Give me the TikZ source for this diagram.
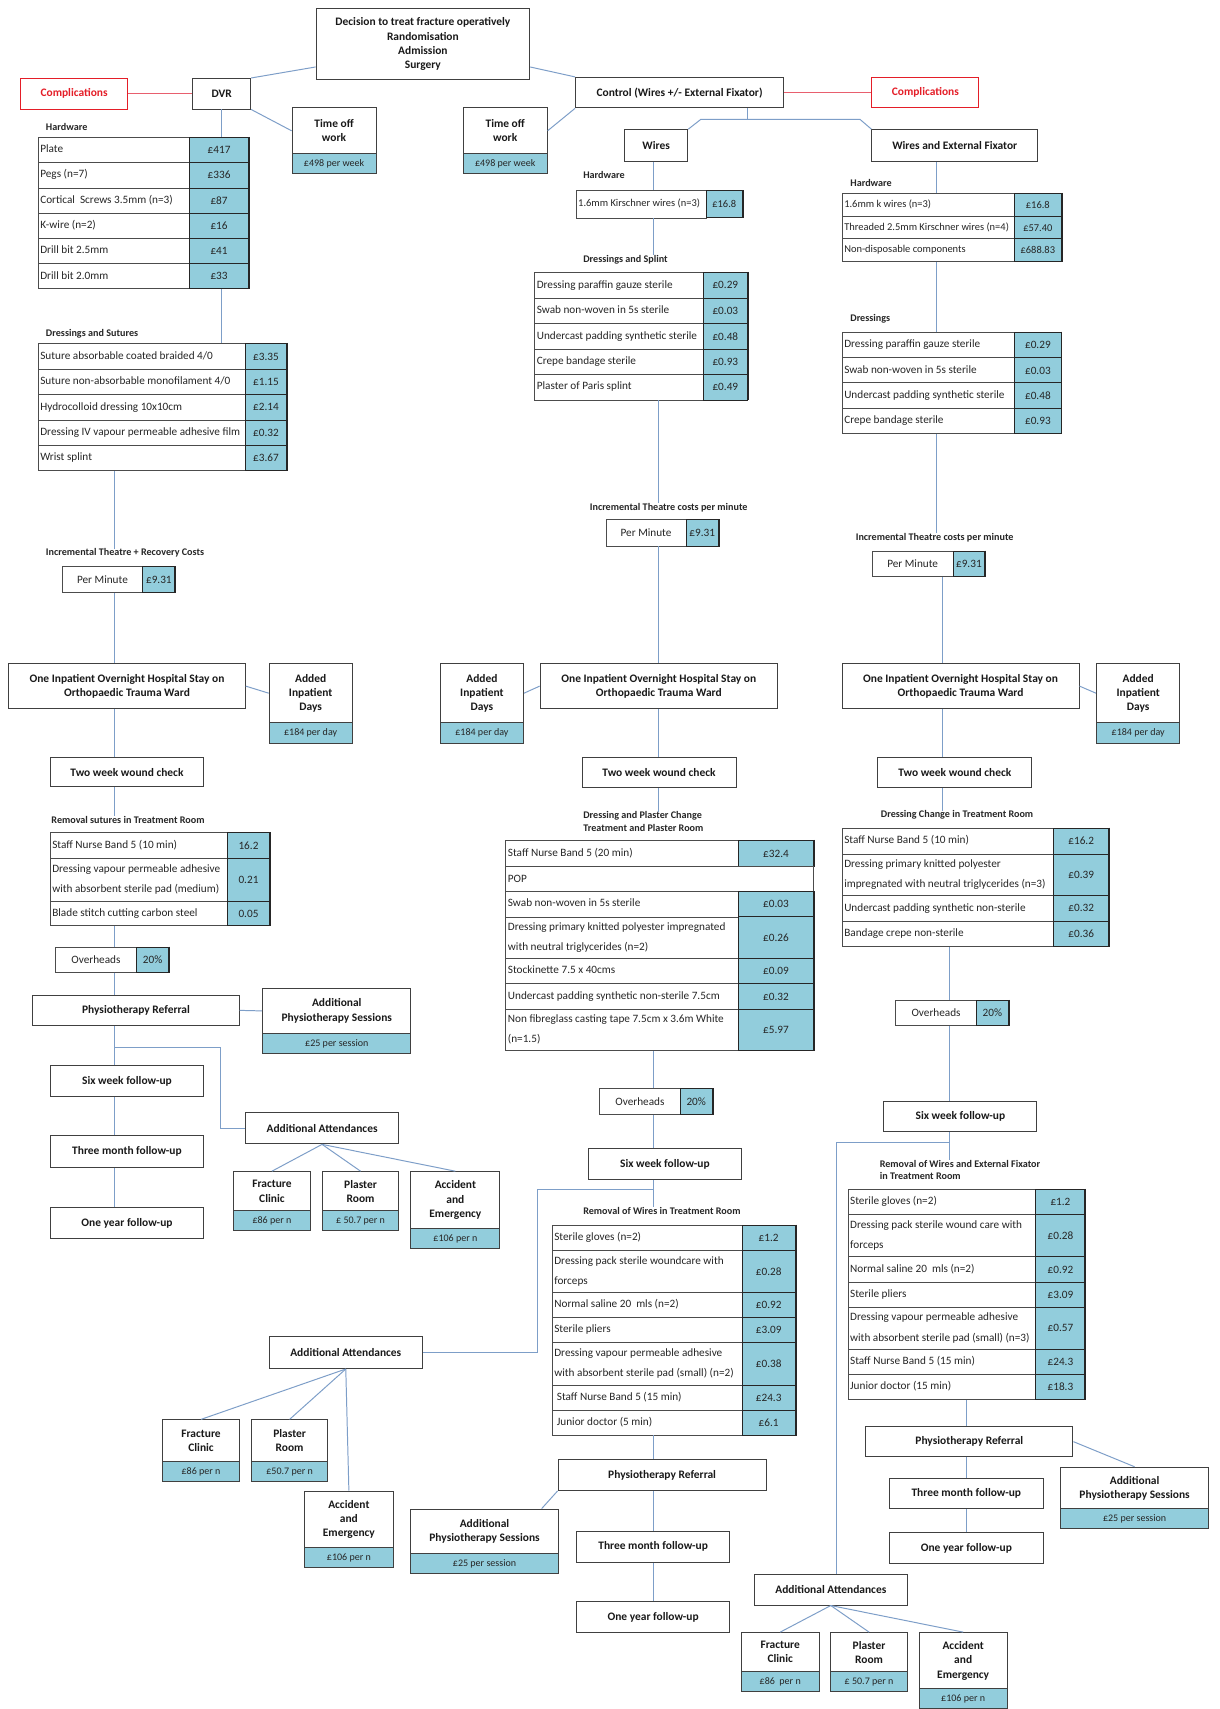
\documentclass[tikz,border=0pt]{standalone}
\usepackage{fontspec}
\setmainfont{Carlito}
\usetikzlibrary{calc}
\definecolor{cellblue}{RGB}{146,205,220}
\definecolor{lineblue}{RGB}{125,158,200}
\definecolor{compred}{RGB}{228,30,40}
\definecolor{redline}{RGB}{232,95,110}
\newcommand\tabfont{\fontsize{10.3}{12.4}\selectfont}
\newcommand\boxfont{\fontsize{10.5}{13}\selectfont\bfseries}
\newcommand\labfont{\fontsize{9.3}{11.3}\selectfont\bfseries}
\newcommand\capfont{\fontsize{9.2}{11}\selectfont}
\newcommand\Bx[7][box]{%
  \pgfmathsetmacro\zzA{#5-#3}%
  \pgfmathsetmacro\zzH{#6-#4}%
  \pgfmathsetmacro\zzX{(#3+#5)/2}%
  \pgfmathsetmacro\zzY{(#4+#6)/2}%
  \node[#1,minimum width=\zzA pt,minimum height=\zzH pt] (#2) at (\zzX,\zzY) {#7};%
}
\newcommand\Trow[8]{%
  \pgfmathsetmacro\zzA{#3-#2}%
  \pgfmathsetmacro\zzB{#4-#3}%
  \pgfmathsetmacro\zzH{#6-#5}%
  \pgfmathsetmacro\zzT{#3-#2-4}%
  \pgfmathsetmacro\zzX{(#2+#3)/2}%
  \pgfmathsetmacro\zzV{(#3+#4)/2}%
  \pgfmathsetmacro\zzY{(#5+#6)/2}%
  \node[lcell,minimum width=\zzA pt,minimum height=\zzH pt] (#1l) at (\zzX,\zzY) {\makebox[\zzT pt][l]{\begin{tabular}{@{}l@{}}#7\end{tabular}}};%
  \node[vcell,minimum width=\zzB pt,minimum height=\zzH pt] (#1v) at (\zzV,\zzY) {#8};%
  \draw[line width=1.7pt,black!85] (#1v.north east) -- (#1v.south east);%
}
\newcommand\Crow[8]{%
  \pgfmathsetmacro\zzA{#3-#2}%
  \pgfmathsetmacro\zzB{#4-#3}%
  \pgfmathsetmacro\zzH{#6-#5}%
  \pgfmathsetmacro\zzX{(#2+#3)/2}%
  \pgfmathsetmacro\zzV{(#3+#4)/2}%
  \pgfmathsetmacro\zzY{(#5+#6)/2}%
  \node[lcell,minimum width=\zzA pt,minimum height=\zzH pt] (#1l) at (\zzX,\zzY) {#7};%
  \node[vcell,minimum width=\zzB pt,minimum height=\zzH pt] (#1v) at (\zzV,\zzY) {#8};%
  \draw[line width=1.7pt,black!85] (#1v.north east) -- (#1v.south east);%
}
\begin{document}
\begin{tikzpicture}[x=1pt,y=-1pt,
  box/.style={draw=black!75,line width=0.9pt,fill=white,align=center,inner sep=1pt,font=\boxfont,text=black!90},
  cbox/.style={draw=black!75,line width=0.9pt,fill=cellblue,align=center,inner sep=1pt,font=\capfont,text=black!85},
  rbox/.style={draw=compred,line width=0.9pt,fill=white,inner sep=1pt,font=\boxfont,text=compred},
  lcell/.style={draw=black!70,line width=0.8pt,fill=white,inner sep=0pt,font=\tabfont,text=black!85},
  vcell/.style={draw=black!85,line width=0.9pt,fill=cellblue,inner sep=0pt,font=\tabfont,text=black!85},
  lab/.style={font=\labfont,text=black!85,inner sep=0pt,anchor=west,align=left},
  conn/.style={draw=lineblue,line width=0.9pt},
  rconn/.style={draw=redline,line width=1pt}]
\fill[white] (0,0) rectangle (1119,1568);
\useasboundingbox (0,0) rectangle (1119,1568);

% ---------- coordinates for connector lines
\coordinate (xA) at (105.5,0);
\coordinate (xWu) at (599.5,0);
\coordinate (xW2) at (604.6,0);
\coordinate (xW3) at (599.2,0);
\coordinate (xR) at (859.6,0);
\coordinate (xR2) at (864.6,0);
\coordinate (xR3) at (870.7,0);
\coordinate (xR4) at (887,0);
\coordinate (cjL) at (643,109.5);
\coordinate (cjM) at (686,109.5);
\coordinate (cjR) at (789,109.5);
\coordinate (brA) at (202,961.5);
\coordinate (brW) at (493.1,1091.5);
\coordinate (brR) at (767.4,1048.1);

% ---------- top
\Bx{top}{290}{8}{486}{73}{Decision to treat fracture operatively\\Randomisation\\Admission\\Surgery}
\Bx[rbox]{compL}{19}{72}{117}{100}{Complications}
\Bx{dvr}{177}{72}{230}{100}{DVR}
\Bx{toA}{268}{99}{345}{141}{Time off\\work}
\Bx[cbox]{toAc}{268}{141}{345}{159}{£498 per week}
\Bx{toB}{425}{99}{502}{141}{Time off\\work}
\Bx[cbox]{toBc}{425}{141}{502}{159}{£498 per week}
\Bx{ctrl}{528}{71}{719}{99}{Control (Wires +/- External Fixator)}
\Bx[rbox]{compR}{800}{71}{898}{99}{Complications}
\Bx{wires}{573}{119}{631}{148}{Wires}
\Bx{wef}{800}{119}{952}{148}{Wires and External Fixator}

% ---------- DVR column
\node[lab] (lbHwA) at (42,116.5) {Hardware};
\Trow{hwA1}{35}{174}{228}{126}{149}{Plate}{£417}
\Trow{hwA2}{35}{174}{228}{149}{172.5}{Pegs (n=7)}{£336}
\Trow{hwA3}{35}{174}{228}{172.5}{196}{Cortical~ Screws 3.5mm (n=3)}{£87}
\Trow{hwA4}{35}{174}{228}{196}{219}{K-wire (n=2)}{£16}
\Trow{hwA5}{35}{174}{228}{219}{242}{Drill bit 2.5mm}{£41}
\Trow{hwA6}{35}{174}{228}{242}{265}{Drill bit 2.0mm}{£33}
\node[lab] (lbDsA) at (42,306) {Dressings and Sutures};
\Trow{dsA1}{35}{225}{263}{315}{339}{Suture absorbable coated braided 4/0}{£3.35}
\Trow{dsA2}{35}{225}{263}{339}{362}{Suture non-absorbable monofilament 4/0}{£1.15}
\Trow{dsA3}{35}{225}{263}{362}{385.5}{Hydrocolloid dressing 10x10cm}{£2.14}
\Trow{dsA4}{35}{225}{263}{385.5}{408.5}{Dressing IV vapour permeable adhesive film}{£0.32}
\Trow{dsA5}{35}{225}{263}{408.5}{432}{Wrist splint}{£3.67}
\node[lab] (lbItA) at (42,507.5) {Incremental Theatre + Recovery Costs};
\Crow{pmA}{57}{131}{160.5}{520}{544}{Per Minute}{£9.31}
\Bx{inA}{8}{609}{225}{650}{One Inpatient Overnight Hospital Stay on\\Orthopaedic Trauma Ward}
\Bx{addA}{247}{609}{323}{663}{Added\\Inpatient\\Days}
\Bx[cbox]{addAc}{247}{663}{323}{682}{£184 per day}
\Bx{twA}{46}{695}{187}{722}{Two week wound check}
\node[lab] (lbRsA) at (47,752) {Removal sutures in Treatment Room};
\Trow{rsA1}{46}{209}{247}{764}{788}{Staff Nurse Band 5 (10 min)}{16.2}
\Trow{rsA2}{46}{209}{247}{788}{827}{Dressing vapour permeable adhesive\\[6pt]with absorbent sterile pad (medium)}{0.21}
\Trow{rsA3}{46}{209}{247}{827}{849.5}{Blade stitch cutting carbon steel}{0.05}
\Crow{ohA}{51}{125}{155}{869}{892}{Overheads}{20\%}
\Bx{prA}{30}{913}{219.5}{941}{Physiotherapy Referral}
\Bx{apA}{241}{907}{377}{948}{Additional\\Physiotherapy Sessions}
\Bx[cbox]{apAc}{241}{948}{377}{967}{£25 per session}
\Bx{swA}{46}{978}{187}{1006.4}{Six week follow-up}
\Bx{tmA}{46}{1042}{187}{1071}{Three month follow-up}
\Bx{oyA}{46}{1108}{187}{1136.4}{One year follow-up}
\Bx{aaA}{225}{1021}{366}{1049.5}{Additional Attendances}
\Bx{fcA}{214}{1075}{285}{1111}{Fracture\\Clinic}
\Bx[cbox]{fcAc}{214}{1111}{285}{1129}{£86 per n}
\Bx{plA}{295.6}{1075}{366}{1111}{Plaster\\Room}
\Bx[cbox]{plAc}{295.6}{1111}{366}{1129}{£ 50.7 per n}
\Bx{aeA}{377}{1075}{458.6}{1127}{Accident\\and\\Emergency}
\Bx[cbox]{aeAc}{377}{1127}{458.6}{1145.6}{£106 per n}

% ---------- Wires column
\node[lab] (lbHwW) at (535,161) {Hardware};
\renewcommand\tabfont{\fontsize{9.6}{11.5}\selectfont}
\Trow{whw1}{528.5}{648}{681}{175}{200}{1.6mm Kirschner wires (n=3)}{£16.8}
\renewcommand\tabfont{\fontsize{10.3}{12.4}\selectfont}
\node[lab] (lbDsW) at (535,238) {Dressings and Splint};
\Trow{dsW1}{490.5}{645}{686}{250}{273.6}{Dressing paraffin gauze sterile}{£0.29}
\Trow{dsW2}{490.5}{645}{686}{273.6}{297}{Swab non-woven in 5s sterile}{£0.03}
\Trow{dsW3}{490.5}{645}{686}{297}{320.4}{Undercast padding synthetic sterile}{£0.48}
\Trow{dsW4}{490.5}{645}{686}{320.4}{343.4}{Crepe bandage sterile}{£0.93}
\Trow{dsW5}{490.5}{645}{686}{343.4}{367}{Plaster of Paris splint}{£0.49}
\node[lab] (lbItW) at (541,466) {Incremental Theatre costs per minute};
\Crow{pmW}{556}{629.5}{659}{477}{501}{Per Minute}{£9.31}
\Bx{inW}{495.6}{609}{713.3}{650}{One Inpatient Overnight Hospital Stay on\\Orthopaedic Trauma Ward}
\Bx{addW}{404}{609}{480.3}{663}{Added\\Inpatient\\Days}
\Bx[cbox]{addWc}{404}{663}{480.3}{682}{£184 per day}
\Bx{twW}{534}{694.6}{675.3}{722.4}{Two week wound check}
\node[lab] (lbDpW) at (535,753.7) {Dressing and Plaster Change\\Treatment and Plaster Room};
\Trow{dpW1}{464}{678}{746}{771}{795}{Staff Nurse Band 5 (20 min)}{£32.4}
\Bx[lcell]{dpPOP}{464}{795}{746}{818}{\makebox[278pt][l]{POP}}
\Trow{dpW2}{464}{678}{746}{818}{841.3}{Swab non-woven in 5s sterile}{£0.03}
\Trow{dpW3}{464}{678}{746}{841.3}{879.3}{Dressing primary knitted polyester impregnated\\[6pt]with neutral triglycerides (n=2)}{£0.26}
\Trow{dpW4}{464}{678}{746}{879.3}{902.5}{Stockinette 7.5 x 40cms}{£0.09}
\Trow{dpW5}{464}{678}{746}{902.5}{926}{Undercast padding synthetic non-sterile 7.5cm}{£0.32}
\Trow{dpW6}{464}{678}{746}{926}{964}{Non fibreglass casting tape 7.5cm x 3.6m White\\[6pt](n=1.5)}{£5.97}
\Crow{ohW}{550.3}{624}{653.6}{999}{1022.5}{Overheads}{20\%}
\Bx{swW}{539.6}{1054}{680.5}{1082}{Six week follow-up}
\node[lab] (lbRwW) at (535,1111) {Removal of Wires in Treatment Room};
\Trow{rwW1}{506.6}{681}{729.5}{1124}{1147}{Sterile gloves (n=2)}{£1.2}
\Trow{rwW2}{506.6}{681}{729.5}{1147}{1186}{Dressing pack sterile woundcare with\\[6pt]forceps}{£0.28}
\Trow{rwW3}{506.6}{681}{729.5}{1186}{1209}{Normal saline 20~ mls (n=2)}{£0.92}
\Trow{rwW4}{506.6}{681}{729.5}{1209}{1232}{Sterile pliers}{£3.09}
\Trow{rwW5}{506.6}{681}{729.5}{1232}{1271}{Dressing vapour permeable adhesive\\[6pt]with absorbent sterile pad (small) (n=2)}{£0.38}
\Trow{rwW6}{506.6}{681}{729.5}{1271}{1294}{~Staff Nurse Band 5 (15 min)}{£24.3}
\Trow{rwW7}{506.6}{681}{729.5}{1294}{1316.6}{~Junior doctor (5 min)}{£6.1}
\Bx{prW}{512}{1339.5}{703}{1367.5}{Physiotherapy Referral}
\Bx{apW}{376.6}{1384.6}{512.5}{1425.6}{Additional\\Physiotherapy Sessions}
\Bx[cbox]{apWc}{376.6}{1425.6}{512.5}{1444}{£25 per session}
\Bx{tmW}{529}{1404.7}{669.5}{1433.5}{Three month follow-up}
\Bx{oyW}{529}{1469.4}{669.5}{1497.6}{One year follow-up}
\Bx{aaW}{247}{1226.6}{387.5}{1255.6}{Additional Attendances}
\Bx{fcW}{149.2}{1302.7}{219.7}{1341}{Fracture\\Clinic}
\Bx[cbox]{fcWc}{149.2}{1341}{219.7}{1359.6}{£86 per n}
\Bx{plW}{230.6}{1302.7}{300.8}{1341}{Plaster\\Room}
\Bx[cbox]{plWc}{230.6}{1341}{300.8}{1359.6}{£50.7 per n}
\Bx{aeW}{279.4}{1368.1}{360.8}{1419.8}{Accident\\and\\Emergency}
\Bx[cbox]{aeWc}{279.4}{1419.8}{360.8}{1438.5}{£106 per n}

% ---------- Wires and External Fixator column
\node[lab] (lbHwR) at (780,167.6) {Hardware};
\renewcommand\tabfont{\fontsize{9.6}{11.5}\selectfont}
\Trow{rhw1}{772.6}{930.4}{974}{177.3}{198.7}{1.6mm k wires (n=3)}{£16.8}
\Trow{rhw2}{772.6}{930.4}{974}{198.7}{219.2}{Threaded 2.5mm Kirschner wires (n=4)}{£57.40}
\Trow{rhw3}{772.6}{930.4}{974}{219.2}{240.3}{Non-disposable components}{£688.83}
\renewcommand\tabfont{\fontsize{10.3}{12.4}\selectfont}
\node[lab] (lbDsR) at (780,292.6) {Dressings};
\Trow{rds1}{772.6}{931}{973.5}{304.8}{328.4}{Dressing paraffin gauze sterile}{£0.29}
\Trow{rds2}{772.6}{931}{973.5}{328.4}{351.3}{Swab non-woven in 5s sterile}{£0.03}
\Trow{rds3}{772.6}{931}{973.5}{351.3}{375.1}{Undercast padding synthetic sterile}{£0.48}
\Trow{rds4}{772.6}{931}{973.5}{375.1}{397.8}{Crepe bandage sterile}{£0.93}
\node[lab] (lbItR) at (785,493.5) {Incremental Theatre costs per minute};
\Crow{pmR}{800}{874.7}{903.2}{505.7}{529}{Per Minute}{£9.31}
\Bx{inR}{772.6}{609}{990}{650}{One Inpatient Overnight Hospital Stay on\\Orthopaedic Trauma Ward}
\Bx{addR}{1006}{609}{1082.6}{663}{Added\\Inpatient\\Days}
\Bx[cbox]{addRc}{1006}{663}{1082.6}{682}{£184 per day}
\Bx{twR}{805.3}{694.6}{946.8}{722.4}{Two week wound check}
\node[lab] (lbDcR) at (808,748) {Dressing Change in Treatment Room};
\Trow{dcR1}{772.6}{967}{1017}{759.7}{783.6}{Staff Nurse Band 5 (10 min)}{£16.2}
\Trow{dcR2}{772.6}{967}{1017}{783.6}{821.5}{Dressing primary knitted polyester\\[6pt]impregnated with neutral triglycerides (n=3)}{£0.39}
\Trow{dcR3}{772.6}{967}{1017}{821.5}{845.3}{Undercast padding synthetic non-sterile}{£0.32}
\Trow{dcR4}{772.6}{967}{1017}{845.3}{868.3}{Bandage crepe non-sterile}{£0.36}
\Crow{ohR}{821.8}{895.8}{925.1}{917.8}{941}{Overheads}{20\%}
\Bx{swR}{811}{1010.3}{951.4}{1038.1}{Six week follow-up}
\node[lab] (lbRwR) at (807,1073.7) {Removal of Wires and External Fixator\\in Treatment Room};
\Trow{rwR1}{778}{950.5}{995.4}{1091.2}{1114.4}{Sterile gloves (n=2)}{£1.2}
\Trow{rwR2}{778}{950.5}{995.4}{1114.4}{1153.2}{Dressing pack sterile wound care with\\[6pt]forceps}{£0.28}
\Trow{rwR3}{778}{950.5}{995.4}{1153.2}{1176.3}{Normal saline 20~ mls (n=2)}{£0.92}
\Trow{rwR4}{778}{950.5}{995.4}{1176.3}{1199.5}{Sterile pliers}{£3.09}
\Trow{rwR5}{778}{950.5}{995.4}{1199.5}{1237.9}{Dressing vapour permeable adhesive\\[6pt]with absorbent sterile pad (small) (n=3)}{£0.57}
\Trow{rwR6}{778}{950.5}{995.4}{1237.9}{1261}{Staff Nurse Band 5 (15 min)}{£24.3}
\Trow{rwR7}{778}{950.5}{995.4}{1261}{1283.9}{Junior doctor (15 min)}{£18.3}
\Bx{prR}{794.3}{1308.8}{984.4}{1336.6}{Physiotherapy Referral}
\Bx{apR}{973.1}{1346.2}{1108.9}{1384.3}{Additional\\Physiotherapy Sessions}
\Bx[cbox]{apRc}{973.1}{1384.3}{1108.9}{1402.5}{£25 per session}
\Bx{tmR}{815.7}{1356.2}{957.5}{1384.3}{Three month follow-up}
\Bx{oyR}{815.7}{1406}{957.5}{1434.5}{One year follow-up}
\Bx{aaR}{692}{1444.2}{832.5}{1472.6}{Additional Attendances}
\Bx{fcR}{680.2}{1497.9}{751.5}{1533.8}{Fracture\\Clinic}
\Bx[cbox]{fcRc}{680.2}{1533.8}{751.5}{1552}{£86~ per n}
\Bx{plR}{762.2}{1497.9}{832.5}{1533.8}{Plaster\\Room}
\Bx[cbox]{plRc}{762.2}{1533.8}{832.5}{1552}{£ 50.7 per n}
\Bx{aeR}{843.2}{1497.9}{924.2}{1549.6}{Accident\\and\\Emergency}
\Bx[cbox]{aeRc}{843.2}{1549.6}{924.2}{1567.5}{£106 per n}

% ---------- connectors: top
\draw[rconn] (compL.east) -- (dvr.west);
\draw[rconn] (ctrl.east) -- (compR.west);
\draw[conn] (dvr.north east) -- ([yshift=12pt]top.south west);
\draw[conn] ([yshift=12pt]top.south east) -- (ctrl.north west);
\draw[conn] (dvr.south east) -- (toA.west);
\draw[conn] (toB.east) -- (ctrl.south west);
\draw[conn] (cjM |- ctrl.south) -- (cjM);
\draw[conn] (wires.north east) -- (cjL) -- (cjR) -- (wef.north west);

% ---------- connectors: DVR column
\draw[conn] (dvr.south) -- (dvr.south |- hwA1v.north);
\draw[conn] (dvr.south |- hwA6v.south) -- (dvr.south |- dsA1l.north);
\draw[conn] (xA |- dsA5l.south) -- (xA |- lbItA.north);
\draw[conn] (xA |- pmAl.south) -- (xA |- inA.north);
\draw[conn] (inA.east) -- (addA.west);
\draw[conn] (xA |- inA.south) -- (xA |- twA.north);
\draw[conn] (xA |- twA.south) -- (xA |- lbRsA.north);
\draw[conn] (xA |- rsA3l.south) -- (xA |- ohAl.north);
\draw[conn] (xA |- ohAl.south) -- (xA |- prA.north);
\draw[conn] (prA.east) -- (apA.west);
\draw[conn] (xA |- prA.south) -- (xA |- swA.north);
\draw[conn] (xA |- brA) -- (brA) -- (brA |- aaA.west) -- (aaA.west);
\draw[conn] (xA |- swA.south) -- (xA |- tmA.north);
\draw[conn] (xA |- tmA.south) -- (xA |- oyA.north);
\draw[conn] (aaA.south) -- (fcA.north);
\draw[conn] (aaA.south) -- (plA.north);
\draw[conn] (aaA.south) -- (aeA.north);

% ---------- connectors: Wires column
\draw[conn] (xWu |- wires.south) -- (xWu |- whw1l.north);
\draw[conn] (xWu |- whw1l.south) -- (xWu |- lbDsW.north);
\draw[conn] (xW2 |- dsW5l.south) -- (xW2 |- lbItW.north);
\draw[conn] (xW2 |- pmWl.south) -- (xW2 |- inW.north);
\draw[conn] (addW.east) -- (inW.west);
\draw[conn] (xW2 |- inW.south) -- (xW2 |- twW.north);
\draw[conn] (xW2 |- twW.south) -- (xW2 |- lbDpW.north);
\draw[conn] (xW3 |- dpW6l.south) -- (xW3 |- ohWl.north);
\draw[conn] (xW3 |- ohWl.south) -- (xW3 |- swW.north);
\draw[conn] (xW3 |- swW.south) -- (xW3 |- lbRwW.north);
\draw[conn] (xW3 |- brW) -- (brW) -- (brW |- aaW.east) -- (aaW.east);
\draw[conn] (xW3 |- rwW7l.south) -- (xW3 |- prW.north);
\draw[conn] (prW.south west) -- ([xshift=-16pt]apW.north east);
\draw[conn] (xW3 |- prW.south) -- (xW3 |- tmW.north);
\draw[conn] (xW3 |- tmW.south) -- (xW3 |- oyW.north);
\draw[conn] (aaW.south) -- (fcW.north);
\draw[conn] (aaW.south) -- (plW.north);
\draw[conn] (aaW.south) -- (aeW.north);

% ---------- connectors: WEF column
\draw[conn] (xR |- wef.south) -- (xR |- rhw1l.north);
\draw[conn] (xR |- rhw3l.south) -- (xR |- rds1l.north);
\draw[conn] (xR |- rds4l.south) -- (xR |- lbItR.north);
\draw[conn] (xR2 |- pmRl.south) -- (xR2 |- inR.north);
\draw[conn] (inR.east) -- (addR.west);
\draw[conn] (xR2 |- inR.south) -- (xR2 |- twR.north);
\draw[conn] (xR2 |- twR.south) -- (xR2 |- lbDcR.north);
\draw[conn] (xR3 |- dcR4l.south) -- (xR3 |- ohRl.north);
\draw[conn] (xR3 |- ohRl.south) -- (xR3 |- swR.north);
\draw[conn] (xR3 |- swR.south) -- (xR3 |- lbRwR.north);
\draw[conn] (xR3 |- brR) -- (brR) -- (brR |- aaR.north);
\draw[conn] (xR4 |- rwR7l.south) -- (xR4 |- prR.north);
\draw[conn] (prR.east) -- (apR.north);
\draw[conn] (xR4 |- prR.south) -- (xR4 |- tmR.north);
\draw[conn] (xR4 |- tmR.south) -- (xR4 |- oyR.north);
\draw[conn] (aaR.south) -- (fcR.north);
\draw[conn] (aaR.south) -- (plR.north);
\draw[conn] (aaR.south) -- (aeR.north);
\end{tikzpicture}
\end{document}
